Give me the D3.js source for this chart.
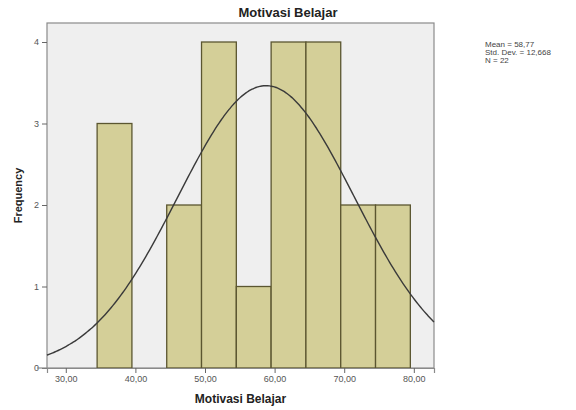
<!DOCTYPE html>
<html><head><meta charset="utf-8">
<script src="https://cdn.jsdelivr.net/npm/d3@7"></script>
<style>body{margin:0;background:#fff}svg{display:block}</style>
</head><body>
<svg id="c" width="576" height="410"></svg>
<script>
const binEdges = [34.5, 39.5, 44.5, 49.5, 54.5, 59.5, 64.5, 69.5, 74.5, 79.5];
const counts = [3, 0, 2, 4, 1, 4, 4, 2, 2];
const xTicks = [30, 40, 50, 60, 70, 80];
const yTicks = [0, 1, 2, 3, 4];
const stats = { mean: 58.77, sd: 12.668, n: 22 };
const legendLines = ["Mean = 58,77", "Std. Dev. = 12,668", "N = 22"];

const svg = d3.select("#c");
const L = 47, R = 434, T = 23, B = 368;
const x = d3.scaleLinear().domain([27.3, 82.9]).range([L, R]);
const y = d3.scaleLinear().domain([0, 4]).range([B, 42]);
const font = "Arial, 'Liberation Sans', sans-serif";

svg.append("rect").attr("x", L).attr("y", T).attr("width", R - L).attr("height", B - T)
  .attr("fill", "#efefef").attr("stroke", "#8a8a8a").attr("stroke-width", 1.2);

const bins = counts.map((c, i) => ({ x0: binEdges[i], x1: binEdges[i + 1], c }));
svg.append("g").selectAll("rect").data(bins.filter(d => d.c > 0)).join("rect")
  .attr("x", d => x(d.x0)).attr("y", d => y(d.c))
  .attr("width", d => x(d.x1) - x(d.x0)).attr("height", d => y(0) - y(d.c))
  .attr("fill", "#d4cf98").attr("stroke", "#5b5630").attr("stroke-width", 1.3);

// normal curve from stats
const bw = binEdges[1] - binEdges[0];
const xs = d3.range(0, 201).map(i => 27.3 + (82.9 - 27.3) * i / 200);
const pdf = v => stats.n * bw / (stats.sd * Math.sqrt(2 * Math.PI)) * Math.exp(-0.5 * ((v - stats.mean) / stats.sd) ** 2);
svg.append("path").datum(xs)
  .attr("d", d3.line().x(v => x(v)).y(v => y(pdf(v))).curve(d3.curveBasis))
  .attr("fill", "none").attr("stroke", "#3a3a3a").attr("stroke-width", 1.4);

// axes
const xa = svg.append("g").attr("transform", `translate(0,${B})`)
  .call(d3.axisBottom(x).tickValues(xTicks).tickSize(5).tickFormat(d => d.toFixed(2).replace(".", ",")));
const ya = svg.append("g").attr("transform", `translate(${L},0)`)
  .call(d3.axisLeft(y).tickValues(yTicks).tickSize(5).tickFormat(d => d));
[xa, ya].forEach(a => {
  a.select(".domain").attr("stroke", "#8a8a8a").attr("stroke-width", 1.2);
  a.selectAll(".tick line").attr("stroke", "#666");
  a.selectAll("text").attr("fill", "#555").attr("font-size", 9).attr("font-family", font);
});
ya.select(".domain").remove();
svg.append("line").attr("x1", L - 10).attr("x2", L).attr("y1", B).attr("y2", B).attr("stroke", "#8a8a8a").attr("stroke-width", 1.2);

svg.append("text").attr("x", 288).attr("y", 17).attr("text-anchor", "middle")
  .attr("font-family", font).attr("font-weight", "bold").attr("font-size", 13).attr("fill", "#222")
  .text("Motivasi Belajar");
svg.append("text").attr("x", (L + R) / 2).attr("y", 403).attr("text-anchor", "middle")
  .attr("font-family", font).attr("font-weight", "bold").attr("font-size", 12).attr("fill", "#222")
  .text("Motivasi Belajar");
svg.append("text").attr("transform", `translate(22,${(T + B) / 2}) rotate(-90)`).attr("text-anchor", "middle")
  .attr("font-family", font).attr("font-weight", "bold").attr("font-size", 11).attr("fill", "#222")
  .text("Frequency");

svg.append("g").selectAll("text").data(legendLines).join("text")
  .attr("x", 485).attr("y", (d, i) => 47 + i * 8)
  .attr("font-family", font).attr("font-size", 8).attr("fill", "#444").text(d => d);
</script>
</body></html>
